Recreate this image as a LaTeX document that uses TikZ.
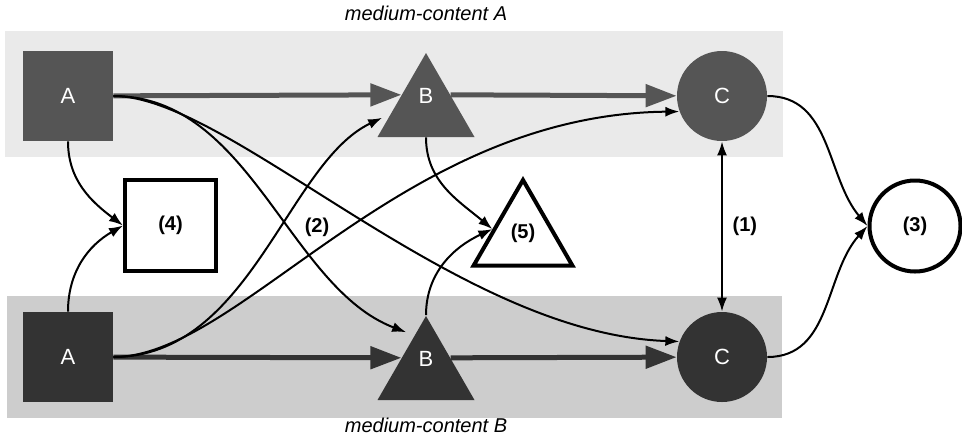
\documentclass[tikz,border=0pt]{standalone}
\usepackage{fontspec}
\setmainfont{Liberation Sans}
\usepackage{tikz}
\usetikzlibrary{calc,arrows.meta,shapes.geometric}
\definecolor{bandA}{HTML}{EAEAEA}
\definecolor{bandB}{HTML}{CDCDCD}
\definecolor{fillA}{HTML}{555555}
\definecolor{fillB}{HTML}{333333}
\tikzset{
  sq/.style={rectangle,minimum size=45pt,inner sep=0pt,text=white,font=\fontsize{11}{13}\selectfont},
  tri/.style={regular polygon,regular polygon sides=3,minimum size=56pt,inner sep=0pt},
  circ/.style={circle,minimum size=45pt,inner sep=0pt,text=white,font=\fontsize{11}{13}\selectfont},
  hollow/.style={draw=black,line width=2pt,fill=white,text=black,font=\bfseries},
  wt/.style={text=white,font=\fontsize{11}{13}\selectfont},
  main/.style={-{Triangle[length=15.5pt,width=11pt]},line width=2.5pt},
  ln/.style={-{Latex[length=7pt,width=5pt]},line width=1pt},
  lab/.style={font=\bfseries},
  ttl/.style={font=\itshape}
}
\begin{document}
\begin{tikzpicture}[x=0.5pt,y=-0.5pt]
\useasboundingbox (0,0) rectangle (962,436);
\fill[bandA] (5,31) rectangle (783,157);
\fill[bandB] (7,296) rectangle (782,418);
\node[ttl] (ttlA) at (426,13) {medium-content A};
\node[ttl] (ttlB) at (426,425) {medium-content B};

\node[sq,fill=fillA] (a1) at (68,96) {A};
\node[tri,fill=fillA,label={[wt,yshift=6.5pt]center:B}] (b1) at (426,109) {};
\node[circ,fill=fillA] (c1) at (722,96) {C};
\node[sq,fill=fillB] (a2) at (68,357) {A};
\node[tri,fill=fillB,label={[wt,yshift=6.5pt]center:B}] (b2) at (426,372) {};
\node[circ,fill=fillB] (c2) at (722,357) {C};
\node[sq,hollow,minimum size=45.5pt] (n4) at (170.5,225.5) {(4)};
\node[tri,hollow,minimum size=57pt,label={[lab,yshift=2pt]center:(5)}] (n5) at (523,237) {};
\node[circ,hollow,minimum size=45.5pt] (n3) at (915,226) {(3)};

\draw[main,fillA] (a1) -- (b1.side 1);
\draw[main,fillA] (b1.side 3) -- (c1);
\draw[main,fillB] (a2) -- (b2.side 1);
\draw[main,fillB] (b2.side 3) -- (c2);

\draw[ln] (a1.east) .. controls +(137,0) and +(-118,-45) .. ($(b2.corner 1)!.2!(b2.corner 2)+(-10,0)$);
\draw[ln] (a1.east) .. controls +(117,0) and +(-225,-8) .. (c2.160);
\draw[ln] (a2.east) .. controls +(137,0) and +(-95,45) .. ($(b1.corner 1)!.77!(b1.corner 2)+(-6,0)$);
\draw[ln] (a2.east) .. controls +(127,0) and +(-280,3) .. (c1.200);
\draw[ln] (a1.south) to[out=-90,in=143] (n4.west);
\draw[ln] (a2.north) to[out=90,in=210] (n4.west);
\draw[ln] (b1.side 2) to[out=-90,in=140] ($(n5.corner 1)!.58!(n5.corner 2)$);
\draw[ln] (b2.corner 1) to[out=90,in=205] ($(n5.corner 1)!.58!(n5.corner 2)$);
\draw[ln,{Latex[length=7pt,width=5pt]}-{Latex[length=7pt,width=5pt]}] (c1.south) -- (c2.north)
  node[lab,midway,right=1.5pt] (l1) {(1)};
\draw[ln] (c1.east) to[out=0,in=130] (n3.west);
\draw[ln] (c2.east) to[out=0,in=228] (n3.west);
\node[lab] (l2) at (317,227) {(2)};
\end{tikzpicture}
\end{document}
